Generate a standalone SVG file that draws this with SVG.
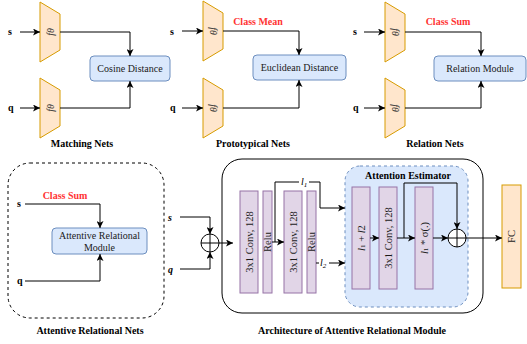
<svg xmlns="http://www.w3.org/2000/svg" width="527" height="344" viewBox="0 0 527 344">
<style>
text{font-family:"Liberation Serif","Times New Roman",serif;fill:#000}
.lbl{font-size:10px;font-weight:bold;text-anchor:middle}
.io{font-size:10px;font-weight:bold}
.ioi{font-size:10px;font-weight:bold;font-style:italic}
.red{font-size:10px;font-weight:bold;fill:#ff3333;text-anchor:middle}
.bt{font-size:10px;text-anchor:middle;dominant-baseline:central;fill:#1a1a1a}
.vt{font-size:10.5px;text-anchor:middle;dominant-baseline:central;fill:#1a1a1a}
.ft{font-size:10px;text-anchor:middle;dominant-baseline:central;font-style:italic;fill:#333}
.trap{fill:#ffe6cc;stroke:#d79b00;stroke-width:1}
.blue{fill:#dae8fc;stroke:#6c8ebf;stroke-width:1}
.pur{fill:#e1d5e7;stroke:#9673a6;stroke-width:1}
.fc{fill:#ffe6cc;stroke:#d79b00;stroke-width:1}
.ln{fill:none;stroke:#000;stroke-width:1}
.arr{fill:none;stroke:#000;stroke-width:1;marker-end:url(#ah)}
.sum{fill:#fff;stroke:#000;stroke-width:1}
</style>
<defs>
<marker id="ah" viewBox="0 0 8 8" markerWidth="7" markerHeight="7" refX="8" refY="4" orient="auto" markerUnits="userSpaceOnUse">
<path d="M0,0 L8,4 L0,8 L2,4 z" fill="#000"/>
</marker>
</defs>

<!-- Matching Nets -->
<g id="mn-fs"><polygon class="trap" points="40,2 60,14 60,50 40,62"/><text class="ft" transform="translate(50,32) rotate(-90)">fθ</text></g>
<g id="mn-fq"><polygon class="trap" points="40,78 60,90 60,126 40,138"/><text class="ft" transform="translate(50,108) rotate(-90)">fθ</text></g>
<g id="mn-cos"><rect class="blue" x="90" y="56" width="80" height="25" rx="4"/><text class="bt" x="130" y="68.5">Cosine Distance</text></g>
<g id="mn-s"><text class="io" x="8" y="35">s</text></g>
<g id="mn-q"><text class="io" x="8" y="111">q</text></g>
<g id="mn-label"><text class="lbl" x="82" y="147">Matching Nets</text></g>

<!-- Prototypical Nets -->
<g id="pn-fs"><polygon class="trap" points="203,1 223,13 223,49 203,61"/><text class="ft" transform="translate(213,31) rotate(90)">fθ</text></g>
<g id="pn-fq"><polygon class="trap" points="203,78 223,90 223,126 203,138"/><text class="ft" transform="translate(213,108) rotate(90)">fθ</text></g>
<g id="pn-euc"><rect class="blue" x="253" y="55" width="93" height="25" rx="4"/><text class="bt" x="299.5" y="67.5">Euclidean Distance</text></g>
<g id="pn-s"><text class="io" x="170" y="35">s</text></g>
<g id="pn-q"><text class="io" x="170" y="111">q</text></g>
<g id="pn-mean"><text class="red" x="258" y="25">Class Mean</text></g>
<g id="pn-label"><text class="lbl" x="253" y="147">Prototypical Nets</text></g>

<!-- Relation Nets -->
<g id="rn-fs"><polygon class="trap" points="385,2 405,14 405,50 385,62"/><text class="ft" transform="translate(395,32) rotate(90)">fθ</text></g>
<g id="rn-fq"><polygon class="trap" points="385,78 405,90 405,126 385,138"/><text class="ft" transform="translate(395,108) rotate(90)">fθ</text></g>
<g id="rn-rel"><rect class="blue" x="434" y="56" width="92" height="25" rx="4"/><text class="bt" x="480" y="68.5">Relation Module</text></g>
<g id="rn-s"><text class="io" x="353" y="35">s</text></g>
<g id="rn-q"><text class="io" x="353" y="111">q</text></g>
<g id="rn-sum"><text class="red" x="448" y="25">Class Sum</text></g>
<g id="rn-label"><text class="lbl" x="435" y="147">Relation Nets</text></g>

<!-- Attentive Relational Nets -->
<g id="arn-frame"><rect x="8" y="163" width="156" height="155" rx="22" fill="none" stroke="#000" stroke-width="1" stroke-dasharray="3,3"/></g>
<g id="arn-mod"><rect class="blue" x="52" y="228" width="95" height="26" rx="4"/><text class="bt" x="99.5" y="235.5">Attentive Relational</text><text class="bt" x="99.5" y="247.5">Module</text></g>
<g id="arn-s"><text class="io" x="17" y="207">s</text></g>
<g id="arn-q"><text class="io" x="17" y="284">q</text></g>
<g id="arn-sum"><text class="red" x="65" y="199">Class Sum</text></g>
<g id="arn-label"><text class="lbl" x="90" y="334">Attentive Relational Nets</text></g>

<!-- Architecture -->
<g id="am-frame"><rect x="222" y="159" width="261" height="154" rx="20" fill="none" stroke="#000" stroke-width="1"/></g>
<g id="am-s"><text class="ioi" x="168" y="221">s</text></g>
<g id="am-q"><text class="ioi" x="168" y="273">q</text></g>
<g id="am-add1"><circle class="sum" cx="210" cy="243" r="9"/><path class="ln" d="M201,243 H219 M210,234 V252"/></g>
<g id="am-conv1"><rect class="pur" x="240" y="191" width="18" height="102"/><text class="vt" transform="translate(249,242) rotate(-90)">3x1 Conv, 128</text></g>
<g id="am-relu1"><rect class="pur" x="263" y="191" width="9" height="102"/><text class="vt" transform="translate(267.5,242) rotate(-90)">Relu</text></g>
<g id="am-conv2"><rect class="pur" x="284" y="191" width="18" height="102"/><text class="vt" transform="translate(293,242) rotate(-90)">3x1 Conv, 128</text></g>
<g id="am-relu2"><rect class="pur" x="307" y="191" width="9" height="102"/><text class="vt" transform="translate(311.5,242) rotate(-90)">Relu</text></g>
<g id="ae-frame"><rect class="blue" x="345" y="166" width="123" height="141" rx="15" stroke-dasharray="3,3"/><text class="lbl" x="408" y="179">Attention Estimator</text></g>
<g id="ae-sumbox"><rect class="pur" x="352" y="187" width="18" height="102"/><text class="vt" transform="translate(361,238) rotate(-90)"><tspan font-style="italic">l</tspan><tspan font-size="7" dy="2">1</tspan><tspan dy="-2"> + </tspan><tspan font-style="italic">l</tspan>2</text></g>
<g id="ae-conv"><rect class="pur" x="379" y="187" width="18" height="102"/><text class="vt" transform="translate(388,238) rotate(-90)">3x1 Conv, 128</text></g>
<g id="ae-mul"><rect class="pur" x="415" y="187" width="18" height="102"/><text class="vt" transform="translate(424,238) rotate(-90)"><tspan font-style="italic">l</tspan><tspan font-size="7" dy="2">1</tspan><tspan dy="-2"> * σ(.)</tspan></text></g>
<g id="ae-add"><circle class="sum" cx="457" cy="238" r="9"/><path class="ln" d="M448,238 H466 M457,229 V247"/></g>
<g id="am-fc"><rect class="fc" x="502" y="185" width="19" height="103"/><text class="vt" transform="translate(511.5,236.5) rotate(-90)">FC</text></g>
<g id="am-label"><text class="lbl" x="352" y="334">Architecture of Attentive Relational Module</text></g>

<!-- Connectors -->
<g id="connectors">
<path class="arr" d="M20,32 H40"/>
<path class="arr" d="M60,32 H130 V56"/>
<path class="arr" d="M20,108 H40"/>
<path class="arr" d="M60,108 H130 V81"/>
<path class="arr" d="M182,31 H203"/>
<path class="arr" d="M223,31 H299 V55"/>
<path class="arr" d="M182,108 H203"/>
<path class="arr" d="M223,108 H299 V80"/>
<path class="arr" d="M364,32 H385"/>
<path class="arr" d="M405,32 H481 V56"/>
<path class="arr" d="M364,108 H385"/>
<path class="arr" d="M405,108 H481 V81"/>
<path class="arr" d="M25,204 H100 V228"/>
<path class="arr" d="M25,281 H100 V254"/>
<path class="arr" d="M180,217 H210 V234"/>
<path class="arr" d="M180,269 H210 V252"/>
<path class="arr" d="M219,243 H233"/>
<path class="arr" d="M272,242 H284"/>
<path class="arr" d="M275,242 V182 H320 V208 H345"/>
<rect x="299" y="176" width="10" height="11" fill="#fff"/>
<text x="301" y="185" font-size="10" font-style="italic">l<tspan font-size="7" dy="2">1</tspan></text>
<path class="arr" d="M316,263 H345"/>
<rect x="319" y="257" width="10" height="12" fill="#fff"/>
<text x="320" y="266" font-size="10" font-style="italic">l<tspan font-size="7" dy="2">2</tspan></text>
<path class="arr" d="M370,238 H379"/>
<path class="arr" d="M397,238 H415"/>
<path class="arr" d="M404,238 V183 H457 V229"/>
<path class="arr" d="M433,238 H448"/>
<path class="arr" d="M466,238 H502"/>
</g>
</svg>
